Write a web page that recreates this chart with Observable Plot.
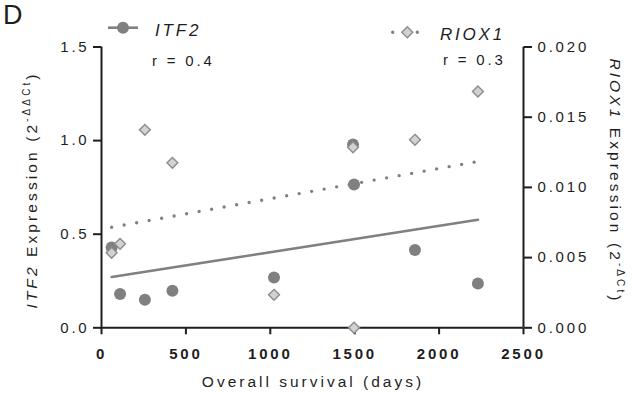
<!DOCTYPE html>
<html>
<head>
<meta charset="utf-8">
<script src="https://cdn.jsdelivr.net/npm/d3@7"></script>
<script src="https://cdn.jsdelivr.net/npm/@observablehq/plot@0.6"></script>
<style>
  body { margin: 0; background: #fff; }
  #chart { width: 637px; height: 393px; }
  #chart svg text { letter-spacing: 2.8px; }
</style>
</head>
<body>
<div id="chart"></div>
<script>
// Overall survival per patient and the two expression measurements
const survivalDays = [60, 110, 257, 420, 1022, 1490, 1496, 1857, 2230];
const itf2Expr = [0.429, 0.181, 0.150, 0.198, 0.269, 0.979, 0.766, 0.416, 0.237];
const riox1Expr = [0.00534, 0.00598, 0.0141, 0.01175, 0.00235, 0.01286, 0.0, 0.01339, 0.01683];

// Axis ticks
const xTicks = [0, 500, 1000, 1500, 2000, 2500];
const leftTicks = [0, 0.5, 1.0, 1.5];
const rightTicks = [0, 0.005, 0.010, 0.015, 0.020];

// Legend and correlation labels
const seriesNames = ["ITF2", "RIOX1"];
const correlations = ["r = 0.4", "r = 0.3"];

// RIOX1 is drawn against the right axis: 0–0.020 maps onto 0–1.5
const leftMax = 1.5, rightMax = 0.020;
const k = leftMax / rightMax;

const rows = survivalDays.map((d, i) => ({
  days: d,
  itf2: itf2Expr[i],
  riox1: riox1Expr[i] * k
}));

const ink = "#1e1e1e";
const dark = "#808080";
const light = "#d2d2d2";
const edge = "#8c8c8c";

const width = 637, height = 393;
const marginLeft = 101, marginRight = 114, marginTop = 46.5, marginBottom = 65.7;

const plot = Plot.plot({
  width, height, marginLeft, marginRight, marginTop, marginBottom,
  style: { fontFamily: "'Liberation Sans', Arial, sans-serif", fontSize: "15px", color: ink, background: "#fff" },
  x: { domain: [0, 2500] },
  y: { domain: [0, leftMax] },
  marks: [
    Plot.axisX({ ticks: xTicks, tickFormat: d => String(d), tickSize: 7, tickPadding: 14, strokeWidth: 2, fontWeight: "bold", label: null }),
    Plot.axisY({ ticks: leftTicks, tickFormat: d => d.toFixed(1), tickSize: 8, tickPadding: 4, strokeWidth: 2, label: null }),
    Plot.axisY({ anchor: "right", ticks: rightTicks.map(v => v * k), tickFormat: v => (v / k).toFixed(3), tickSize: 8, tickPadding: 6, strokeWidth: 2, label: null }),
    Plot.ruleY([0], { stroke: ink, strokeWidth: 2 }),
    Plot.ruleX([0, 2500], { stroke: ink, strokeWidth: 2 }),
    Plot.linearRegressionY(rows, { x: "days", y: "itf2", ci: 0, stroke: dark, strokeWidth: 2.6 }),
    Plot.linearRegressionY(rows, { x: "days", y: "riox1", ci: 0, stroke: dark, strokeWidth: 3.4, strokeDasharray: "0 12.7", strokeLinecap: "round" }),
    Plot.dot(rows, { x: "days", y: "itf2", r: 6, fill: dark, stroke: "none" }),
    Plot.dot(rows, { x: "days", y: "riox1", r: 4.9, symbol: "diamond2", fill: light, stroke: edge, strokeWidth: 1.4 })
  ]
});

document.getElementById("chart").appendChild(plot);

// Titles, legend and panel letter
const svg = d3.select(plot);
const font = "'Liberation Sans', Arial, sans-serif";
const g = svg.append("g").attr("font-family", font).attr("fill", ink).attr("text-anchor", "start");

g.append("text").attr("x", 3).attr("y", 23.5).attr("font-size", 27).style("letter-spacing", "0px").text("D");

// x title
g.append("text").attr("x", 313).attr("y", 387).attr("text-anchor", "middle").attr("font-size", 15.5)
  .style("letter-spacing", "3px").text("Overall survival (days)");

function expressionTitle(sel, gene, sup) {
  sel.append("tspan").attr("font-style", "italic").text(gene);
  sel.append("tspan").text(" Expression (2");
  sel.append("tspan").attr("font-size", 10).attr("dy", -7).text(sup);
  sel.append("tspan").attr("dy", 7).text(")");
}

const leftTitle = g.append("text").attr("font-size", 15.5).attr("text-anchor", "middle")
  .style("letter-spacing", "3.1px")
  .attr("transform", "translate(37,190) rotate(-90)");
expressionTitle(leftTitle, seriesNames[0], "-ΔΔCt");

const rightTitle = g.append("text").attr("font-size", 15.5).attr("text-anchor", "middle")
  .style("letter-spacing", "3.1px")
  .attr("transform", "translate(610,181) rotate(90)");
expressionTitle(rightTitle, seriesNames[1], "-ΔCt");

// legend: ITF2
g.append("line").attr("x1", 108).attr("x2", 138).attr("y1", 27.7).attr("y2", 27.7)
  .attr("stroke", dark).attr("stroke-width", 2.6);
g.append("circle").attr("cx", 123).attr("cy", 27.7).attr("r", 6).attr("fill", dark);
g.append("text").attr("x", 155).attr("y", 36).attr("font-size", 17).attr("font-style", "italic").text(seriesNames[0]);
g.append("text").attr("x", 152).attr("y", 66).attr("font-size", 15).text(correlations[0]);

// legend: RIOX1
g.append("line").attr("x1", 392.7).attr("x2", 417.4).attr("y1", 32.3).attr("y2", 32.3)
  .attr("stroke", dark).attr("stroke-width", 3.4).attr("stroke-dasharray", "0 12.3").attr("stroke-linecap", "round");
g.append("path").attr("d", "M407.3,26.8L412.8,32.3L407.3,37.8L401.8,32.3Z")
  .attr("fill", light).attr("stroke", edge).attr("stroke-width", 1.4);
g.append("text").attr("x", 440).attr("y", 40).attr("font-size", 17).attr("font-style", "italic").text(seriesNames[1]);
g.append("text").attr("x", 443).attr("y", 65).attr("font-size", 15).text(correlations[1]);
</script>
</body>
</html>
